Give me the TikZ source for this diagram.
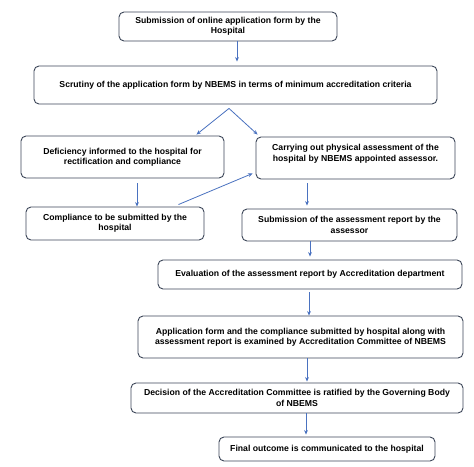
\documentclass[tikz,border=0pt]{standalone}
\usepackage{fontspec}
\setmainfont{Liberation Sans}
\usetikzlibrary{calc,arrows.meta}
\definecolor{boxline}{RGB}{60,70,88}
\definecolor{arrowblue}{RGB}{74,114,192}
\begin{document}
\begin{tikzpicture}[x=1bp,y=-1bp,
  box/.style={draw=boxline,line width=0.9bp,rounded corners=5bp,fill=white,align=center,
    inner sep=2bp,font=\fontsize{8.7}{10.4}\selectfont\bfseries},
  arr/.style={draw=arrowblue,line width=0.8bp,-{Stealth[length=4.5bp,width=3.8bp]}}]
\useasboundingbox[fill=white] (0,0) rectangle (474,467);
\node[box,minimum width=218bp,minimum height=29bp] (b1) at (228,26.5) {Submission of online application form by the\\Hospital};
\node[box,minimum width=403bp,minimum height=38bp] (b2) at (235.5,85) {Scrutiny of the application form by NBEMS in terms of minimum accreditation criteria};
\node[box,minimum width=203bp,minimum height=42bp] (b3) at (122.5,157) {Deficiency informed to the hospital for\\rectification and compliance};
\node[box,minimum width=199bp,minimum height=42bp] (b4) at (355.5,158) {Carrying out physical assessment of the\\hospital by NBEMS appointed assessor.\\\mbox{}};
\node[box,minimum width=178bp,minimum height=33bp] (b5) at (115,223.5) {Compliance to be submitted by the\\hospital};
\node[box,minimum width=215bp,minimum height=32bp] (b6) at (349.5,225) {Submission of the assessment report by the\\assessor};
\node[box,minimum width=304bp,minimum height=29bp] (b7) at (310,274.5) {Evaluation of the assessment report by Accreditation department};
\node[box,minimum width=325bp,minimum height=42bp] (b8) at (300.5,337) {Application form and the compliance submitted by hospital along with\\assessment report is examined by Accreditation Committee of NBEMS};
\node[box,minimum width=332bp,minimum height=30bp] (b9) at (297,398) {Decision of the Accreditation Committee is ratified by the Governing Body\\of NBEMS};
\node[box,minimum width=216bp,minimum height=24bp] (b10) at (327,449) {Final outcome is communicated to the hospital};
% connector start points
\coordinate (s1) at ($(b1.south)+(9,0)$);
\coordinate (ap) at ($(b2.south)+(-6.5,4)$);
\coordinate (s3) at ($(b3.south)+(14.5,5)$);
\coordinate (s5) at ($(b5.north east)+(-26,-2)$);
\coordinate (s4) at ($(b4.south)+(-48.5,4)$);
\coordinate (s6) at ($(b6.south)+(-39.5,0)$);
\coordinate (s7) at ($(b7.south)+(-1,3)$);
\coordinate (s8) at ($(b8.south)+(6.5,0)$);
\coordinate (s9) at ($(b9.south)+(9,0)$);
\draw[arr,shorten >=4bp] (s1) -- (s1 |- b2.north);
\draw[arr] (ap) -- ($(b3.north east)+(-28,-1)$);
\draw[arr] (ap) -- ($(b4.north west)+(2,-2)$);
\draw[arr] (s3) -- (s3 |- b5.north);
\draw[arr] (s5) -- ($(b4.south west)+(-3,-6)$);
\draw[arr,shorten >=3bp] (s4) -- (s4 |- b6.north);
\draw[arr,shorten >=3bp] (s6) -- (s6 |- b7.north);
\draw[arr] (s7) -- (s7 |- b8.north);
\draw[arr,shorten >=1bp] (s8) -- (s8 |- b9.north);
\draw[arr,shorten >=2bp] (s9) -- (s9 |- b10.north);
\end{tikzpicture}
\end{document}
